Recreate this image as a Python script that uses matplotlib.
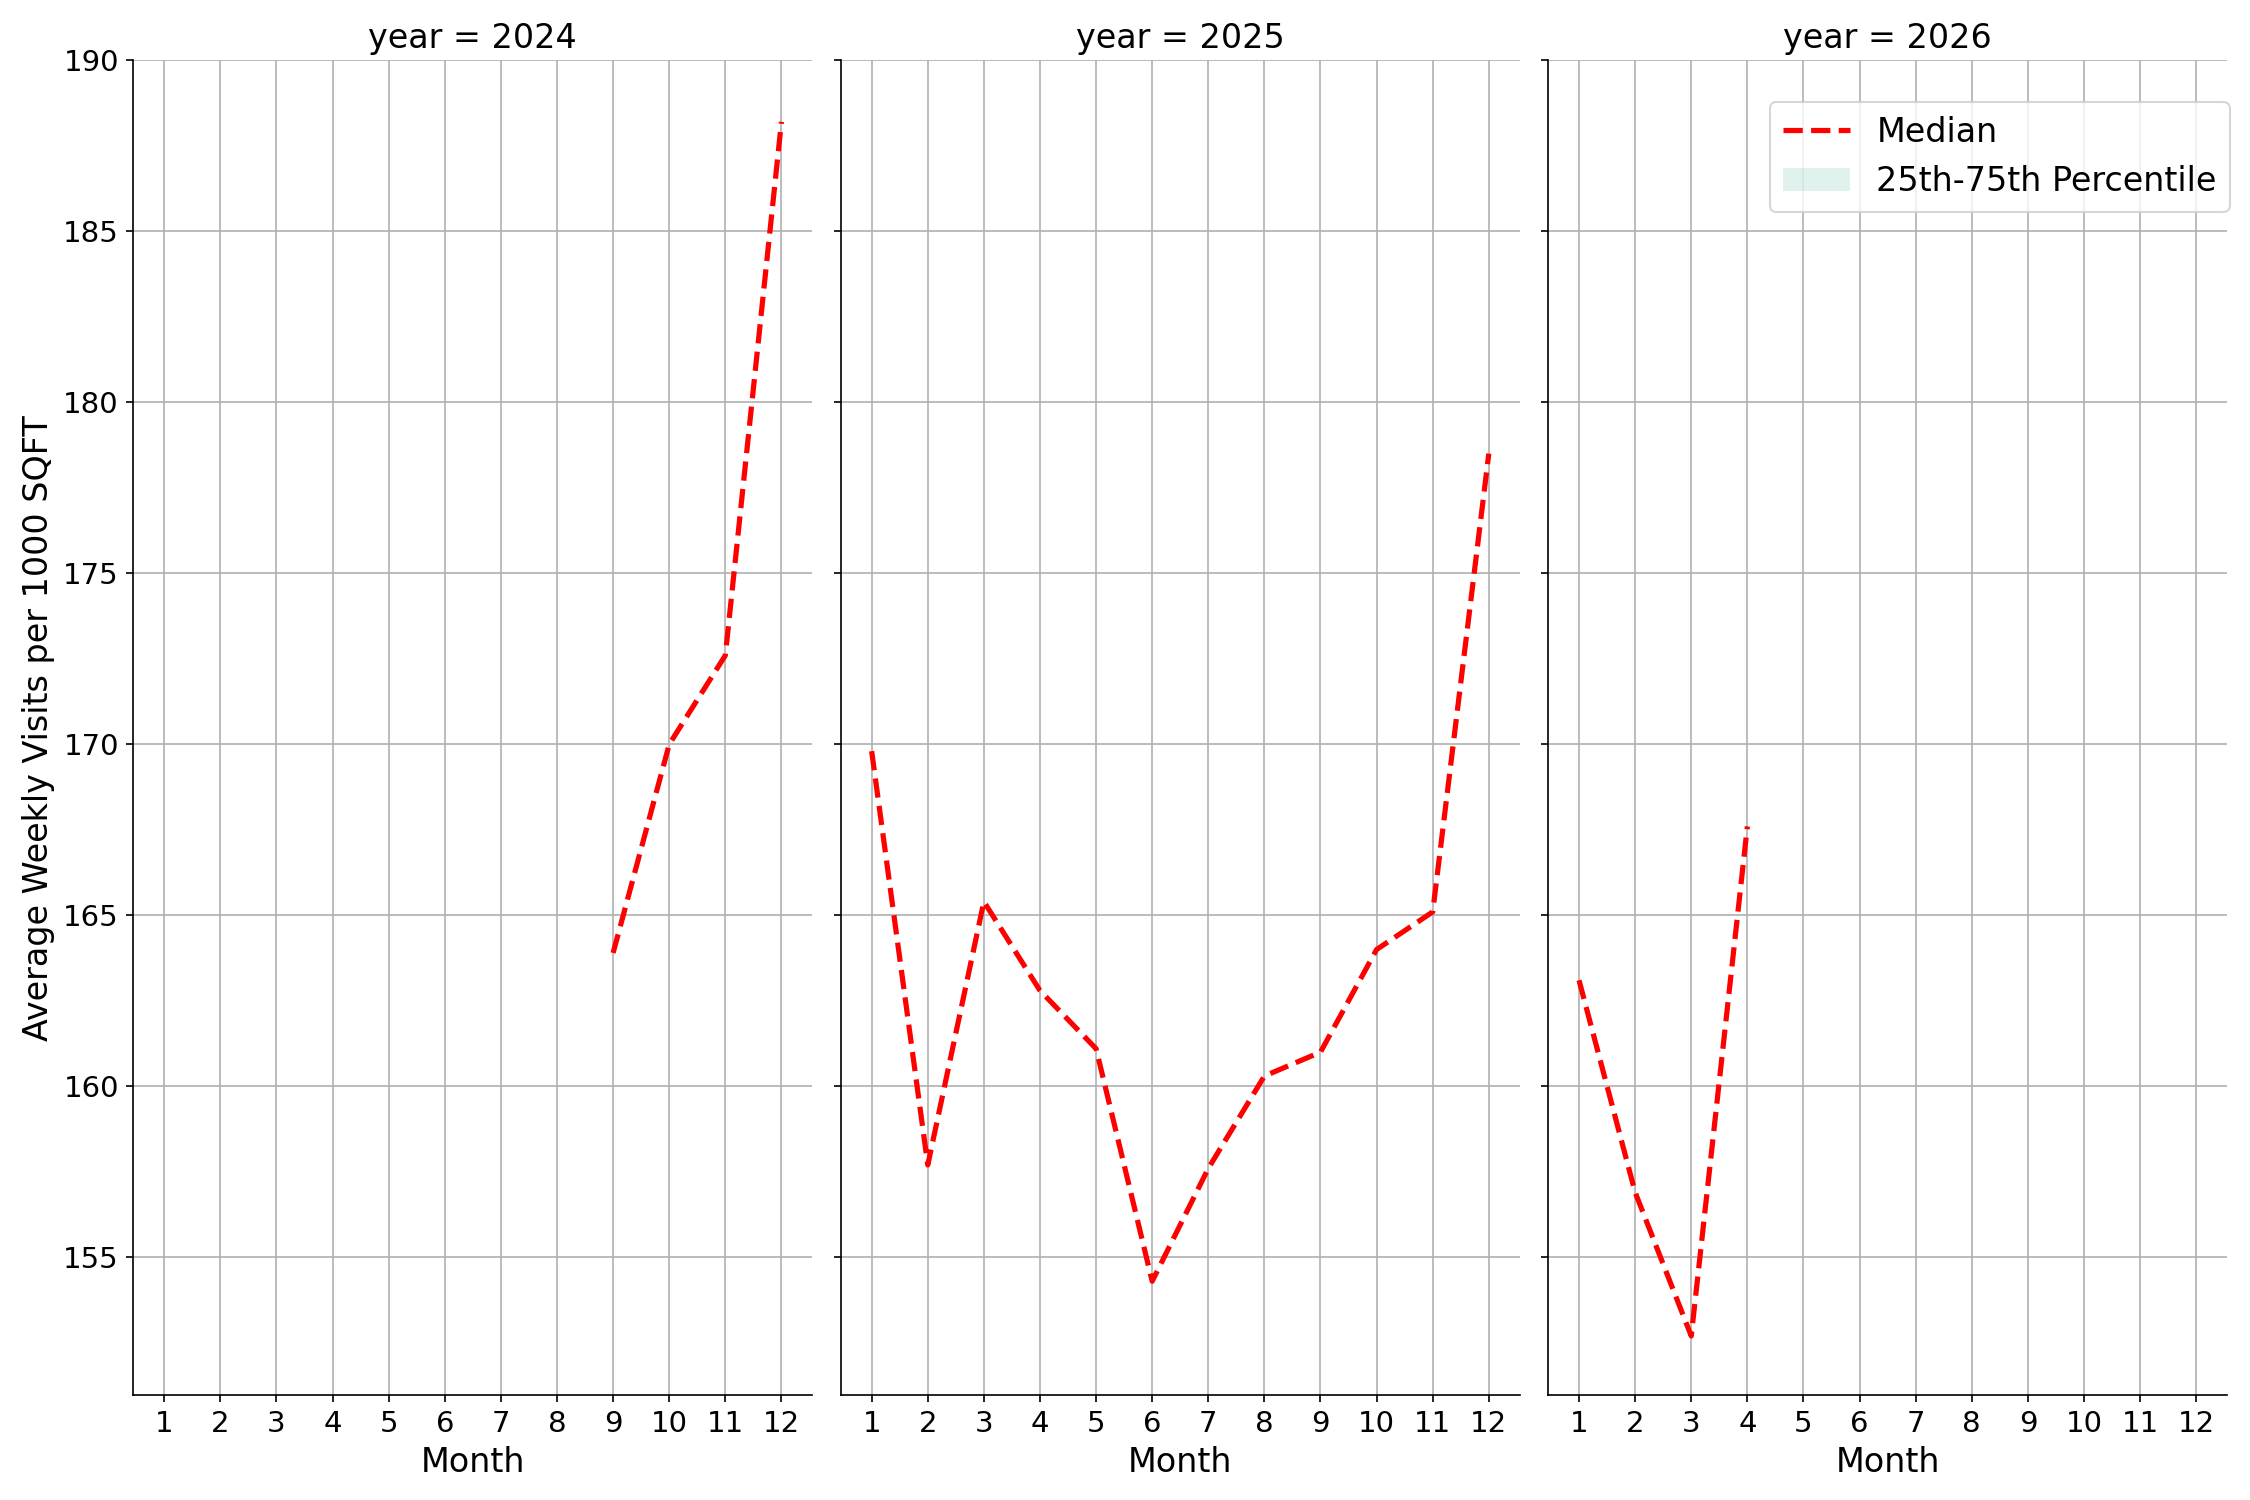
import matplotlib
matplotlib.use("Agg")
import matplotlib.pyplot as plt
from matplotlib.patches import Patch

years = [2024, 2025, 2026]

months_2024 = [9, 10, 11, 12]
median_2024 = [163.9, 170.0, 172.6, 188.2]

months_2025 = [1, 2, 3, 4, 5, 6, 7, 8, 9, 10, 11, 12]
median_2025 = [169.8, 157.7, 165.4, 162.8, 161.1, 154.3, 157.6, 160.3, 161.0, 164.0, 165.1, 178.5]

months_2026 = [1, 2, 3, 4]
median_2026 = [163.1, 156.9, 152.7, 167.6]

month_ticks = list(range(1, 13))
y_ticks = [155, 160, 165, 170, 175, 180, 185, 190]

series = [(months_2024, median_2024), (months_2025, median_2025), (months_2026, median_2026)]

fig, axes = plt.subplots(1, 3, figsize=(15, 10), dpi=150, sharey=True)
fig.subplots_adjust(left=0.0593, right=0.9898, bottom=0.0699, top=0.9598, wspace=0.042)

for ax, yr, (m, v) in zip(axes, years, series):
    ax.plot(m, v, color="red", linestyle="--", linewidth=2.5, zorder=3)
    ax.set_title(f"year = {yr}", fontsize=16)
    ax.set_xlabel("Month", fontsize=16)
    ax.set_xticks(month_ticks)
    ax.set_xlim(0.45, 12.55)
    ax.grid(True, color="#b0b0b0", linewidth=0.8)
    ax.set_axisbelow(True)
    ax.tick_params(labelsize=14)
    ax.spines["top"].set_visible(False)
    ax.spines["right"].set_visible(False)

axes[0].set_yticks(y_ticks)
axes[0].set_ylim(150.97, 190.0)
axes[0].set_ylabel("Average Weekly Visits per 1000 SQFT", fontsize=16)

handles = [
    plt.Line2D([], [], color="red", linestyle="--", linewidth=2.5),
    Patch(facecolor="#66c2a5", alpha=0.2, edgecolor="none"),
]
axes[2].legend(handles, ["Median", "25th-75th Percentile"], loc="upper right",
               bbox_to_anchor=(1.029, 0.981), fontsize=16)

fig.savefig("out.png", dpi=150)
